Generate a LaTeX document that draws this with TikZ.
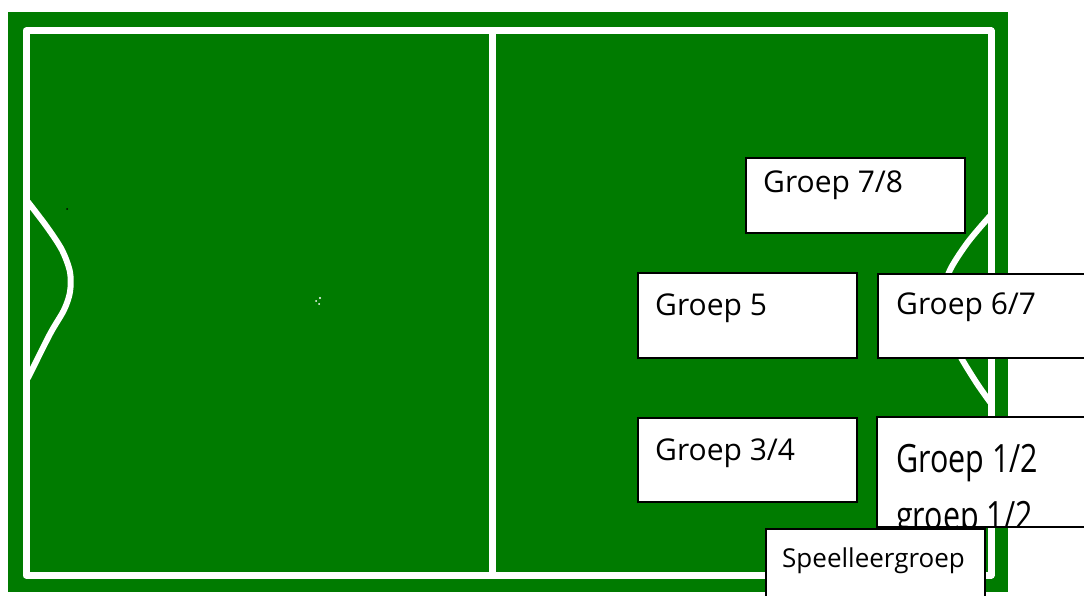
\documentclass[tikz,border=0pt]{standalone}
\usepackage{fontspec}
\setmainfont{Open Sans}
\definecolor{field}{RGB}{0,123,0}
\begin{document}
\begin{tikzpicture}[x=1pt,y=-1pt,
  fieldline/.style={white,line width=7pt,line cap=round,line join=round},
  box/.style={draw=black,fill=white,line width=2pt,anchor=north west,inner sep=0pt},
  lbl/.style={anchor=base west,inner sep=0pt,font=\fontsize{30}{36}\selectfont}]
\clip (0,0) rectangle (1084,596);
\fill[white] (0,0) rectangle (1084,596);
\fill[field] (8,12) rectangle (1008,592);
% field lines
\draw[fieldline] (26,31) rectangle (991,575);
\draw[fieldline] (492,31) -- (492,575);
\draw[fieldline,line width=6pt] plot[smooth] coordinates {(28,202) (47,227) (62,250) (70,272) (70,292) (64,310) (50,334) (28,378)};
\draw[fieldline,line width=6pt] plot[smooth] coordinates {(990,216) (968,242) (950,270) (943,295) (945,320) (958,352) (976,382) (990,402)};
% specks
\fill[black] (67,209) circle (1);
\fill[white] (320,298) circle (1.2);
\fill[white] (316,301) circle (1);
\fill[white] (319,304) circle (1);
% boxes
\node[box,minimum width=219pt,minimum height=75pt] (b78) at (745,157) {};
\node[lbl] (t78) at (763,193) {Groep 7/8};
\node[box,minimum width=219pt,minimum height=85pt] (b5) at (637,272) {};
\node[lbl] (t5) at (655,315) {Groep 5};
\node[box,minimum width=230pt,minimum height=84pt] (b67) at (877,273) {};
\node[lbl] (t67) at (896,314) {Groep 6/7};
\node[box,minimum width=219pt,minimum height=84pt] (b34) at (637,417) {};
\node[lbl] (t34) at (655,460) {Groep 3/4};
\node[box,draw=none,minimum width=230pt,minimum height=108pt] (b12) at (877,417) {};
\begin{scope}
\clip (b12.north west) rectangle (b12.south east);
\node[lbl,font=\fontsize{39}{44}\selectfont] (t12a) at (896,472) {\scalebox{0.78}[1]{Groep 1/2}};
\node[lbl,font=\fontsize{39}{44}\selectfont] (t12b) at (896,529) {\scalebox{0.78}[1]{groep 1/2}};
\end{scope}
\draw[black,line width=2pt] (b12.north west) rectangle (b12.south east);
\node[box,minimum width=219pt,minimum height=80pt] (bsp) at (765,528) {};
\node[lbl,font=\fontsize{26}{30}\selectfont] (tsp) at (782,567) {Speelleergroep};
\end{tikzpicture}
\end{document}
